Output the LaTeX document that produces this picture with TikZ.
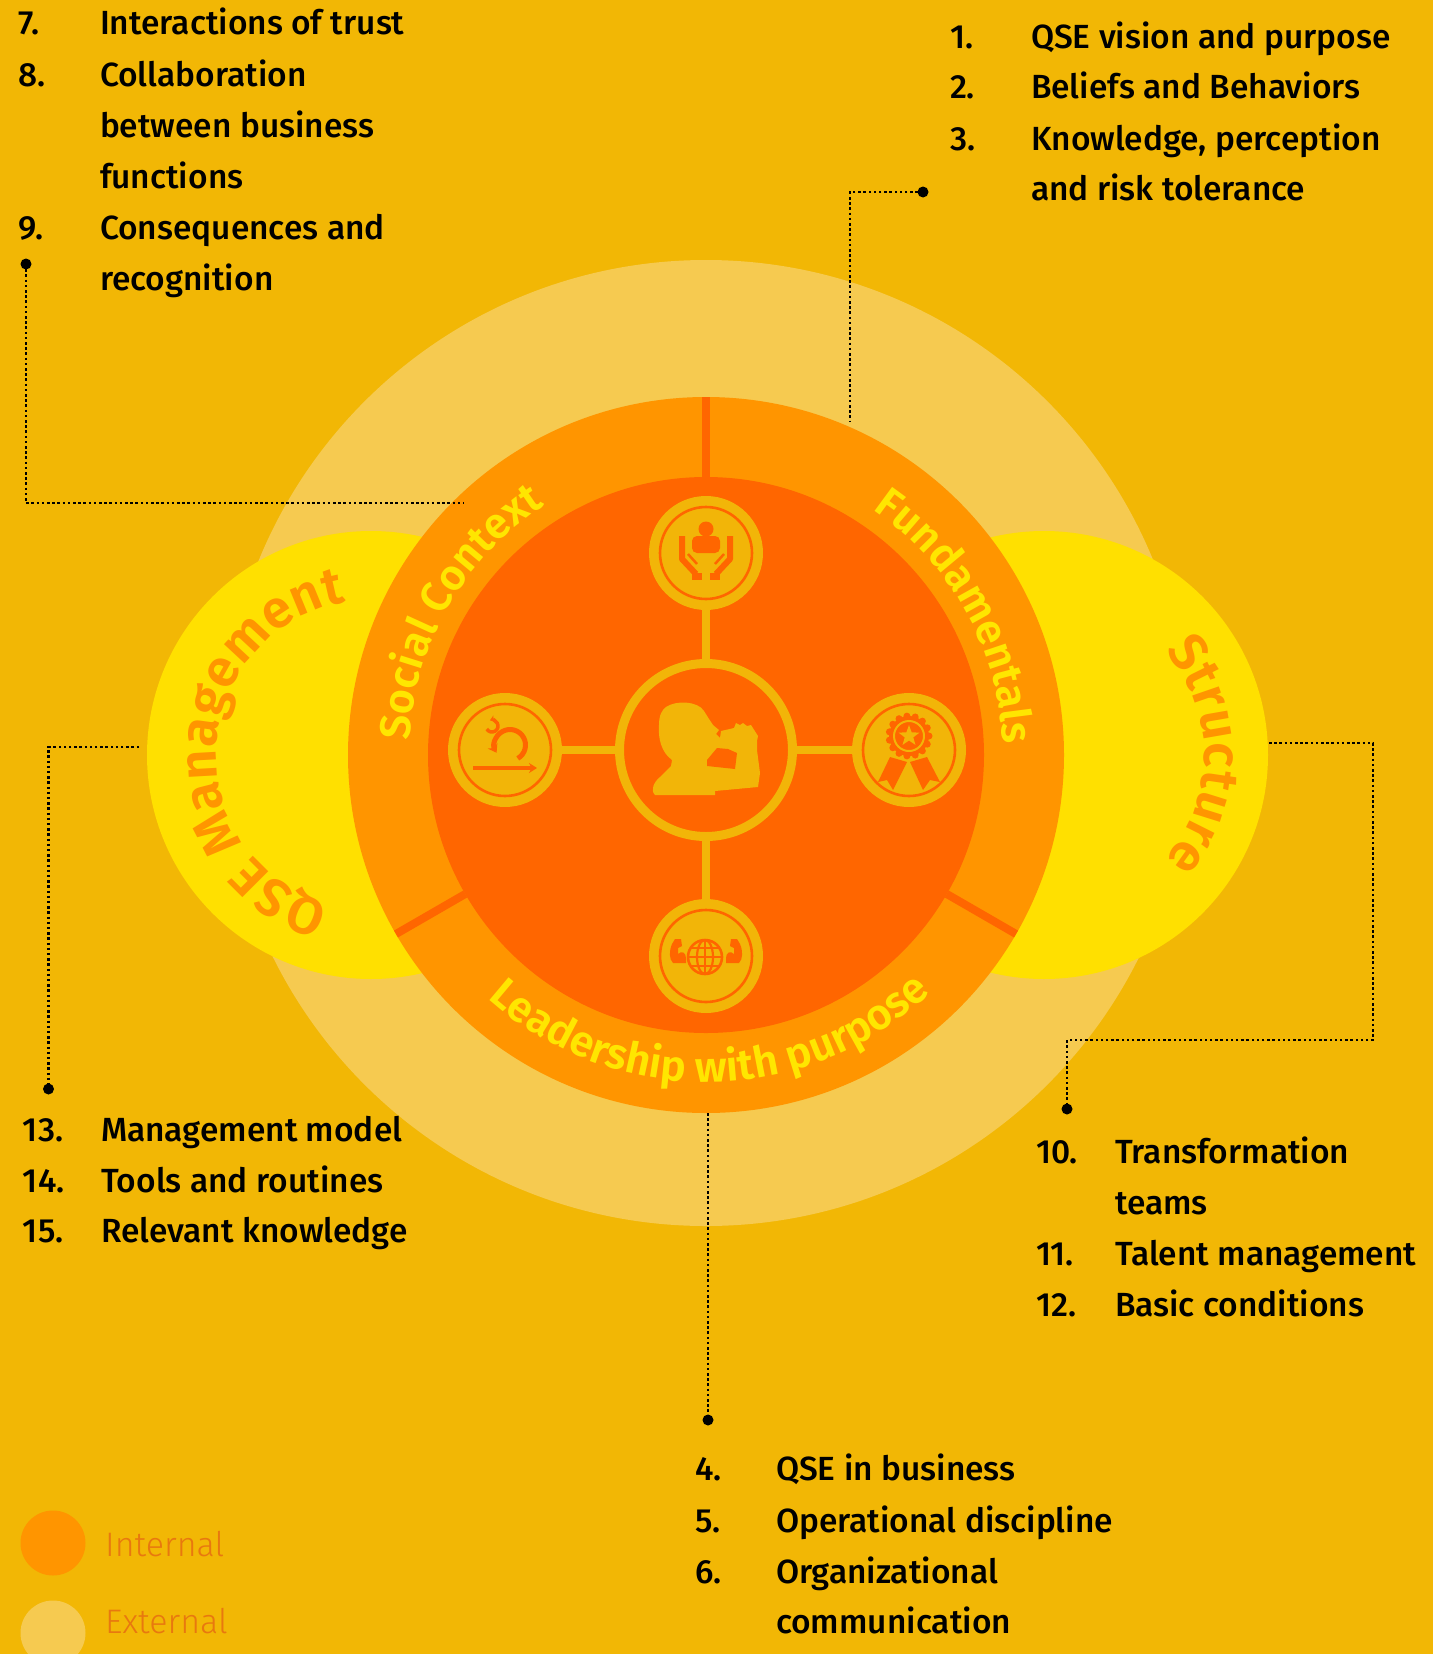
\documentclass[tikz,border=0pt]{standalone}
\usepackage{fontspec}
\setmainfont{Fira Sans}
\newfontfamily\medf{Fira Sans Medium}
\newfontfamily\semif{Fira Sans SemiBold}
\newfontfamily\lightf{Fira Sans Light}
\usetikzlibrary{calc,decorations.text,arrows.meta}
\definecolor{bgc}{RGB}{242,183,5}
\definecolor{extc}{RGB}{246,202,80}
\definecolor{yelc}{RGB}{255,224,0}
\definecolor{ringc}{RGB}{255,149,0}
\definecolor{innerc}{RGB}{255,102,0}
\definecolor{ringtxt}{RGB}{255,230,0}
\definecolor{gold}{RGB}{242,181,8}
\definecolor{legtxt}{RGB}{232,120,15}
\begin{document}
\begin{tikzpicture}[x=1pt,y=-1pt,
  lst/.style={anchor=base west, inner sep=0pt, outer sep=0pt, font=\medf\fontsize{33.5}{38}\selectfont, text=black},
  legt/.style={anchor=base west, inner sep=0pt, font=\lightf\fontsize{34}{40}\selectfont, text=legtxt},
  link/.style={draw=gold, line width=8pt},
  iconbg/.style={circle, fill=gold, minimum size=114pt, inner sep=0pt},
  icring/.style={draw=innerc, line width=2.6pt},
  lead/.style={draw=black, line width=2.5pt, dash pattern=on 2.5pt off 2.7pt},
  enddot/.style={fill=black},
  sepline/.style={draw=innerc, line width=8pt},
  glyph/.style={fill=innerc},
]
\useasboundingbox (0,0) rectangle (1433,1654);
\fill[bgc] (0,0) rectangle (1433,1654);

% ---------- circles ----------
\coordinate (C) at (706,755);
\coordinate (LC) at (371,755);
\coordinate (RC) at (1044,755);
\fill[extc] (706,743) circle[radius=483];
\fill[yelc] (LC) circle[radius=224];
\fill[yelc] (RC) circle[radius=224];
\fill[ringc] (C) circle[radius=358];
\fill[innerc] (C) circle[radius=278];
\foreach \a in {-90,150,30}
  \draw[sepline] ($(C)+(\a:278)$) -- ($(C)+(\a:358)$);

% ---------- curved labels ----------
\path[decorate, decoration={text along path, text align=center,
  text={|\color{ringtxt}\semif\fontsize{43}{43}\selectfont|Social Context}}]
  ($(C)+(-200:297)$) arc[start angle=-200, end angle=-100, radius=297];
\path[decorate, decoration={text along path, text align=center,
  text={|\color{ringtxt}\semif\fontsize{43}{43}\selectfont|Fundamentals}}]
  ($(C)+(-79:297)$) arc[start angle=-79, end angle=21, radius=297];
\path[decorate, decoration={text along path, text align=center,
  text={|\color{ringtxt}\semif\fontsize{43}{43}\selectfont|Leadership with purpose}}]
  ($(C)+(-200:327)$) arc[start angle=-200, end angle=-341.5, radius=327];
\path[decorate, decoration={text along path, text align=center,
  text={|\color{ringc}\semif\fontsize{53}{53}\selectfont|QSE Management}}]
  ($(LC)+(-265:155)$) arc[start angle=-265, end angle=-89, radius=155];
\path[decorate, decoration={text along path, text align=center,
  text={|\color{ringc}\semif\fontsize{53}{53}\selectfont|Structure}}]
  ($(RC)+(-60:160)$) arc[start angle=-60, end angle=60, radius=160];

% ---------- hub and spokes ----------
\node[circle, draw=gold, line width=9pt, fill=innerc, minimum size=173pt, inner sep=0pt] (ctr) at (706,750) {};
\node[iconbg] (itop) at (706,553) {};
\node[iconbg] (ileft) at (505,750) {};
\node[iconbg] (iright) at (909,750) {};
\node[iconbg] (ibot) at (706,956) {};
\foreach \n in {itop,ileft,iright,ibot} {
  \draw[link] (ctr) -- (\n);
  \draw[icring] (\n) circle[radius=46];
}

% person drinking
\begin{scope}[shift={(706,750)}]
  \fill[gold] (-40,-43) .. controls (-30,-50) and (-8,-49) .. (-2,-39)
    -- (3,-31) -- (7,-25) -- (13,-20) -- (10,-16) -- (14,-12)
    -- (15,-19) -- (28,-22) -- (30,-27) -- (34,-25) -- (37,-27) -- (41,-24) -- (45,-25) -- (52,-14)
    -- (51,-9) -- (51,0) -- (54,23) -- (52,37)
    -- (9,41) -- (9,45) -- (-51,45)
    .. controls (-56,40) and (-52,32) .. (-46,27)
    -- (-35,16) -- (-34,10)
    .. controls (-45,2) and (-48,-12) .. (-47,-25)
    .. controls (-47,-35) and (-44,-40) .. (-40,-43) -- cycle;
  \fill[innerc] (11,-2) -- (22,-1) -- (31,3) -- (29,19) -- (1,16) -- (1,10) -- cycle;
\end{scope}

% caring hands
\begin{scope}[shift={(706,553)}]
  \fill[glyph] (0,-24) circle[radius=7.5];
  \fill[glyph, rounded corners=5pt] (-14,0) -- (-14,-17) -- (14,-17) -- (14,0) -- cycle;
  \foreach \s in {1,-1} {
    \begin{scope}[xscale=\s]
      \draw[innerc, line width=6pt, line join=round] (-24,-17) -- (-24,6) -- (-10,21);
      \draw[innerc, line width=2.5pt] (-18,1) -- (-9,11);
      \fill[glyph] (-14,20) rectangle (-4,27);
    \end{scope}
  }
\end{scope}

% iteration loop
\begin{scope}[shift={(505,750)}]
  \draw[innerc, line width=3.5pt, -{Stealth[length=8pt, width=10pt]}] (-32,18) -- (32,18);
  \draw[innerc, line width=5pt, -{Stealth[length=8pt, width=11pt]}]
    ($(5,-5)+(60:15.5)$) arc[start angle=60, end angle=-210, radius=15.5];
  \draw[innerc, line width=3.5pt, -{Stealth[length=5pt, width=7pt]}]
    ($(-13,-24)+(150:6)$) arc[start angle=150, end angle=-110, radius=6];
\end{scope}

% award badge
\begin{scope}[shift={(909,750)}]
  \fill[glyph] (-19,7) -- (-31,32) -- (-22,30) -- (-16,40) -- (-2,12) -- cycle;
  \fill[glyph] (18,7) -- (31,32) -- (21,30) -- (14,40) -- (1,12) -- cycle;
  \fill[glyph] (0,-14) circle[radius=20];
  \foreach \a in {0,24,...,336}
    \fill[glyph] ($(0,-14)+(\a:20)$) circle[radius=3.5];
  \draw[gold, line width=2pt] (0,-14) circle[radius=15];
  \fill[gold] ($(0,-14)+(-90:11)$)
    \foreach \k in {1,...,9} { -- ($(0,-14)+({-90+36*\k}:{ifthenelse(mod(\k,2)==1,4.5,11)})$) } -- cycle;
\end{scope}

% globe with arms
\begin{scope}[shift={(706,956)}]
  \begin{scope}
    \clip (-1,1) circle[radius=17];
    \draw[innerc, line width=2.2pt] (-1,1) ellipse[x radius=8, y radius=17];
    \draw[innerc, line width=2.2pt] (-1,-17) -- (-1,19);
    \foreach \yy in {-8,1,10} \draw[innerc, line width=2.2pt] (-20,\yy) -- (18,\yy);
  \end{scope}
  \draw[innerc, line width=2.6pt] (-1,1) circle[radius=17];
  \foreach \s in {1,-1} {
    \begin{scope}[xscale=\s]
      \fill[glyph] (-31,-17) -- (-25,-17) -- (-24,-10) -- (-28,-8) -- (-28,-2)
        .. controls (-24,-6) and (-20,-3) .. (-20,2) -- (-20,7) -- (-33,7)
        .. controls (-37,3) and (-37,-5) .. (-34,-12) -- cycle;
    \end{scope}
  }
\end{scope}

% ---------- leader lines ----------
\coordinate (p1) at (26,264);   \coordinate (p1k) at (26,503);   \coordinate (p1e) at (464,503);
\coordinate (p2) at (923,192);  \coordinate (p2k) at (850,192);  \coordinate (p2e) at (850,422);
\coordinate (p3s) at (139,747); \coordinate (p3k) at (48.5,747); \coordinate (p3) at (48.5,1089);
\coordinate (p4s) at (1269,743); \coordinate (p4a) at (1373,743); \coordinate (p4b) at (1373,1040);
\coordinate (p4c) at (1067,1040); \coordinate (p4) at (1067,1109);
\coordinate (p5s) at (708,1113); \coordinate (p5) at (708,1420);
\draw[lead] (p1) -- (p1k) -- (p1e);
\draw[lead] (p2) -- (p2k) -- (p2e);
\draw[lead] (p3s) -- (p3k) -- (p3);
\draw[lead] (p4s) -- (p4a) -- (p4b) -- (p4c) -- (p4);
\draw[lead] (p5s) -- (p5);
\foreach \p in {p1,p2,p3,p4,p5} \fill[enddot] (\p) circle[radius=5.5];

% ---------- lists ----------
\node[lst] (n7) at (19,35) {7.};   \node[lst] (t7) at (100,35) {Interactions of trust};
\node[lst] (n8) at (19,86.5) {8.}; \node[lst] (t8) at (100,86.5) {Collaboration};
\node[lst] (t8b) at (100,137.5) {between business};
\node[lst] (t8c) at (100,188.5) {functions};
\node[lst] (n9) at (19,239.5) {9.}; \node[lst] (t9) at (100,239.5) {Consequences and};
\node[lst] (t9b) at (100,290.5) {recognition};

\node[lst] (n1) at (950,48.5) {1.}; \node[lst] (t1) at (1031,48.5) {QSE vision and purpose};
\node[lst] (n2) at (950,99) {2.};   \node[lst] (t2) at (1031,99) {Beliefs and Behaviors};
\node[lst] (n3) at (950,150) {3.};  \node[lst] (t3) at (1031,150) {Knowledge, perception};
\node[lst] (t3b) at (1031,200.5) {and risk tolerance};

\node[lst] (n13) at (23,1141) {13.}; \node[lst] (t13) at (101,1141) {Management model};
\node[lst] (n14) at (23,1192) {14.}; \node[lst] (t14) at (101,1192) {Tools and routines};
\node[lst] (n15) at (23,1242) {15.}; \node[lst] (t15) at (101,1242) {Relevant knowledge};

\node[lst] (n10) at (1036,1163) {10.}; \node[lst] (t10) at (1115,1163) {Transformation};
\node[lst] (t10b) at (1115,1214) {teams};
\node[lst] (n11) at (1036,1265) {11.}; \node[lst] (t11) at (1115,1265) {Talent management};
\node[lst] (n12) at (1036,1316) {12.}; \node[lst] (t12) at (1115,1316) {Basic conditions};

\node[lst] (n4) at (695,1480) {4.}; \node[lst] (t4) at (776,1480) {QSE in business};
\node[lst] (n5) at (695,1532) {5.}; \node[lst] (t5) at (776,1532) {Operational discipline};
\node[lst] (n6) at (695,1583) {6.}; \node[lst] (t6) at (776,1583) {Organizational};
\node[lst] (t6b) at (776,1633) {communication};

% ---------- legend ----------
\node[circle, fill=ringc, minimum size=65pt, inner sep=0pt] (kin) at (53,1543) {};
\node[legt] (kint) at (105,1556) {Internal};
\node[circle, fill=extc, minimum size=65pt, inner sep=0pt] (kex) at (53,1633) {};
\node[legt] (kext) at (105,1633) {External};
\end{tikzpicture}
\end{document}
